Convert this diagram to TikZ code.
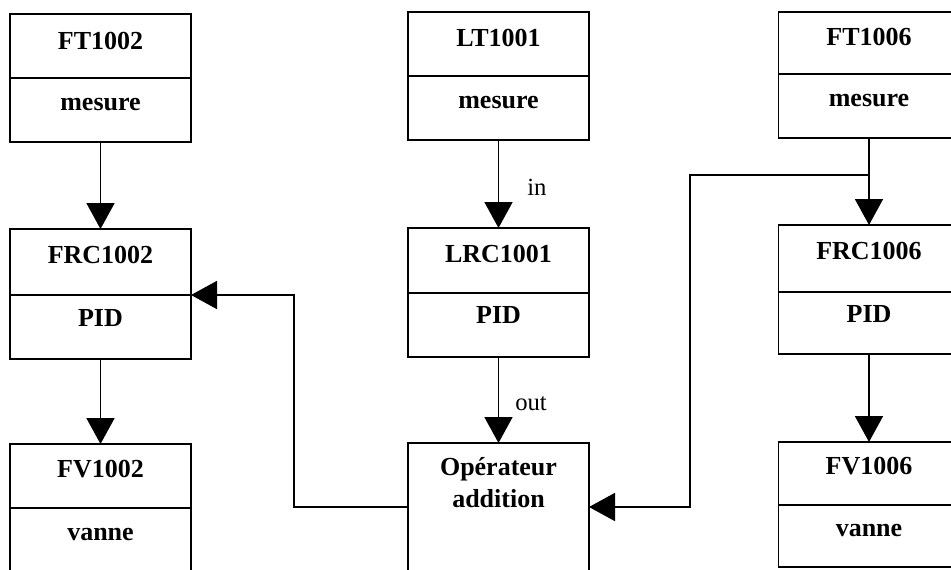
\documentclass[tikz,border=0pt]{standalone}
\usepackage{fontspec}
\setmainfont{Liberation Serif}
\usetikzlibrary{arrows.meta}
\tikzset{
  box/.style={draw, line width=1.4pt, minimum width=135.75pt, inner sep=0pt, outer sep=0pt},
  ttl/.style={anchor=base, inner sep=0pt, font=\bfseries\fontsize{19.5}{22}\selectfont},
  lbl/.style={anchor=base west, inner sep=0pt, font=\fontsize{18.5}{22}\selectfont},
  div/.style={line width=1.4pt},
  arr/.style={line width=1.3pt, -{Triangle[width=21pt,length=19.5pt]}}
}
\begin{document}
\begin{tikzpicture}[x=0.75pt,y=-0.75pt]
\clip (0,0) rectangle (951,569);
% left column
\node[box, minimum height=96pt] (ft1002) at (100.5,78) {};
\draw[div] (ft1002.west |- 0,78) -- (ft1002.east |- 0,78);
\node[ttl] (t1) at (100.5,49) {FT1002};
\node[ttl] (t2) at (100.5,110) {mesure};
\node[box, minimum height=97.5pt] (frc1002) at (100.5,294) {};
\draw[div] (frc1002.west |- 0,295) -- (frc1002.east |- 0,295);
\node[ttl] (t3) at (100.5,263) {FRC1002};
\node[ttl] (t4) at (100.5,326) {PID};
\node[box, minimum height=132pt] (fv1002) at (100.5,532) {};
\draw[div] (fv1002.west |- 0,508) -- (fv1002.east |- 0,508);
\node[ttl] (t5) at (100.5,477) {FV1002};
\node[ttl] (t6) at (100.5,540) {vanne};
% middle column
\node[box, minimum height=96pt] (lt1001) at (498.5,76) {};
\draw[div] (lt1001.west |- 0,76) -- (lt1001.east |- 0,76);
\node[ttl] (t7) at (498.5,46) {LT1001};
\node[ttl] (t8) at (498.5,108) {mesure};
\node[box, minimum height=96.75pt] (lrc1001) at (498.5,292.5) {};
\draw[div] (lrc1001.west |- 0,293) -- (lrc1001.east |- 0,293);
\node[ttl] (t9) at (498.5,262) {LRC1001};
\node[ttl] (t10) at (498.5,323) {PID};
\node[box, minimum height=132.75pt] (op) at (498.5,531.5) {};
\node[ttl] (t11) at (498.5,475) {Opérateur};
\node[ttl] (t12) at (498.5,507) {addition};
% right column
\node[box, minimum height=94.5pt] (ft1006) at (869,75) {};
\draw[div] (ft1006.west |- 0,74) -- (ft1006.east |- 0,74);
\node[ttl] (t13) at (869,45) {FT1006};
\node[ttl] (t14) at (869,106) {mesure};
\node[box, minimum height=96.75pt] (frc1006) at (869,289.5) {};
\draw[div] (frc1006.west |- 0,292) -- (frc1006.east |- 0,292);
\node[ttl] (t15) at (869,259) {FRC1006};
\node[ttl] (t16) at (869,322) {PID};
\node[box, minimum height=93.75pt] (fv1006) at (869,504.5) {};
\draw[div] (fv1006.west |- 0,505) -- (fv1006.east |- 0,505);
\node[ttl] (t17) at (869,474) {FV1006};
\node[ttl] (t18) at (869,536) {vanne};
% connectors
\draw[arr] (ft1002) -- (frc1002);
\draw[arr] (frc1002) -- (fv1002);
\draw[arr] (lt1001) -- (lrc1001);
\draw[arr] (lrc1001) -- (op);
\draw[arr] (ft1006) -- (frc1006);
\draw[arr] (frc1006) -- (fv1006);
\node[lbl] (in) at (527,195) {in};
\node[lbl] (out) at (515,410) {out};
\coordinate (br) at (869,175);
\coordinate (b1) at (690,175);
\coordinate (b2) at (690,507);
\draw[arr] (br) -- (b1) -- (b2) -- (b2 -| op.east);
\coordinate (c1) at (294,507);
\coordinate (c2) at (294,295);
\draw[arr] (c1 -| op.west) -- (c1) -- (c2) -- (c2 -| frc1002.east);
\end{tikzpicture}
\end{document}
